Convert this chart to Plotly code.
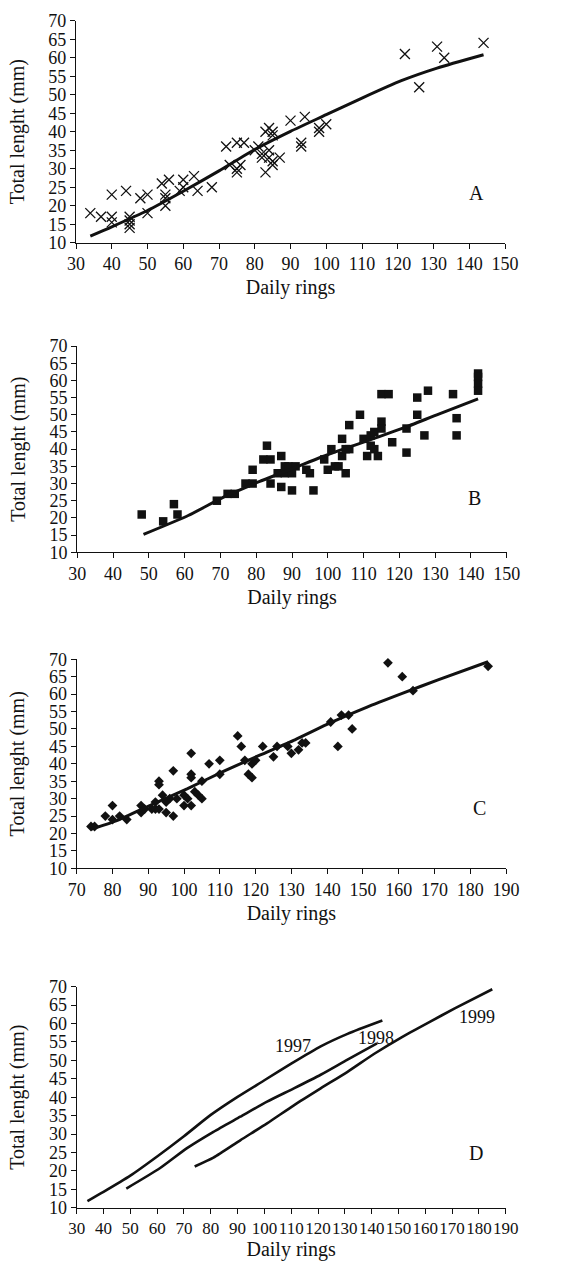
import plotly.graph_objects as go

# ---------------- data ----------------
# Panel A (1997) - crosses
a_x = [34, 37, 40, 40, 40, 44, 45, 45, 45, 45, 48, 50, 50, 54, 55, 55, 55, 56, 59, 60, 60, 63, 64, 68,
       72, 73, 75, 75, 75, 76, 77, 80, 81, 82, 82, 83, 83, 84, 84, 84, 85, 85, 85, 85, 87,
       90, 93, 93, 94, 98, 98, 100, 122, 126, 131, 133, 144]
a_y = [18, 17, 23, 17, 15.5, 24, 17, 15, 14, 16, 22, 23, 18, 26, 23, 20, 22, 27, 24, 27, 25, 28, 24, 25,
       36, 31, 37, 30, 29, 31, 37, 35, 36, 34, 33, 40, 29, 41, 35, 33, 40, 39, 32, 31, 33,
       43, 37, 36, 44, 41, 40, 42, 61, 52, 63, 60, 64]
a_fit_x = [34, 40, 50, 60, 70, 80, 90, 100, 110, 121, 131, 144]
a_fit_y = [11.8, 14.3, 18.7, 23.9, 29.4, 35.2, 40.1, 44.6, 49.1, 53.8, 57.2, 60.8]

# Panel B (1998) - squares
b_x = [48, 54, 57, 58, 69, 72, 74, 77, 79, 79, 82, 83, 84, 84, 86, 87, 87, 88, 88, 89, 90, 90, 91,
       94, 95, 96, 99, 100, 101, 102, 103, 104, 104, 105, 105, 106, 106, 109, 110, 111, 112, 112,
       113, 113, 114, 115, 115, 115, 117, 118, 122, 122, 125, 125, 127, 128, 135, 136, 136,
       142, 142, 142, 142]
b_y = [21, 19, 24, 21, 25, 27, 27, 30, 30, 34, 37, 41, 37, 30, 33, 38, 29, 33, 35, 35, 33, 28, 35,
       34, 33, 28, 37, 34, 40, 35, 35, 43, 38, 40, 33, 47, 40, 50, 43, 38, 44, 41,
       45, 40, 38, 56, 48, 46, 56, 42, 46, 39, 55, 50, 44, 57, 56, 49, 44,
       62, 61, 59, 57]
b_fit_x = [48.5, 61, 71, 81, 91, 101, 111, 121, 131, 142]
b_fit_y = [15.2, 20.7, 26.1, 30.6, 34.7, 38.8, 42.4, 46.1, 50.2, 54.6]

# Panel C (1999) - diamonds
c_x = [74, 75, 78, 80, 80, 82, 84, 88, 88, 89, 91, 92, 92, 93, 93, 93, 94, 95, 95, 96, 97, 97, 98,
       100, 100, 101, 102, 102, 102, 102, 103, 104, 105, 105, 107, 110, 110, 115, 116, 117, 118,
       119, 119, 120, 122, 125, 126, 129, 130, 132, 133, 134, 141, 143, 144, 146, 147, 157, 161,
       164, 185]
c_y = [22, 22, 25, 28, 24, 25, 24, 28, 26, 27, 27, 29, 27, 35, 34, 27, 31, 29, 26, 30, 38, 25, 30,
       31, 28, 30, 43, 37, 36, 28, 32, 31, 35, 30, 40, 41, 37, 48, 45, 41, 37,
       36, 40, 41, 45, 42, 45, 45, 43, 44, 46, 46, 52, 45, 54, 54, 50, 69, 65,
       61, 68]
c_fit_x = [74, 81, 91, 101, 111, 121, 131, 141, 151, 161, 171, 185]
c_fit_y = [21.2, 23.6, 28.3, 32.9, 37.8, 42.4, 46.9, 51.8, 56.2, 60.2, 64.1, 69.3]

panel_letters = ["A", "B", "C", "D"]
year_labels = ["1997", "1998", "1999"]

# ---------------- layout helpers ----------------
W, H = 561, 1261
FONT = "Liberation Serif, Times New Roman, serif"
# pixel boxes of plot areas: (left, right, top, bottom)
boxes = [(76, 505, 20.7, 242.7), (77.3, 506.7, 346, 552.3),
         (76.7, 506, 659.3, 868.3), (76.7, 505.7, 986.7, 1207.7)]
xranges = [[30, 150], [30, 150], [70, 190], [30, 190]]
xtick_sizes = [18, 18, 18, 17]

fig = go.Figure()

def add_scatter(i, xs, ys, symbol, size, lw=0):
    ax = "" if i == 0 else str(i + 1)
    fig.add_trace(go.Scatter(
        x=xs, y=ys, mode="markers", xaxis="x" + ax, yaxis="y" + ax,
        marker=dict(symbol=symbol, size=size, color="#111",
                    line=dict(width=lw, color="#111")),
        cliponaxis=False, showlegend=False, hoverinfo="skip"))

def add_line(i, xs, ys, w=3):
    ax = "" if i == 0 else str(i + 1)
    fig.add_trace(go.Scatter(
        x=xs, y=ys, mode="lines", xaxis="x" + ax, yaxis="y" + ax,
        line=dict(color="#111", width=w, shape="spline", smoothing=0.6),
        cliponaxis=False, showlegend=False, hoverinfo="skip"))

add_scatter(0, a_x, a_y, "x-thin-open", 10, 1.3)
add_line(0, a_fit_x, a_fit_y)
add_scatter(1, b_x, b_y, "square", 8.5)
add_line(1, b_fit_x, b_fit_y)
add_scatter(2, c_x, c_y, "diamond", 7.5)
add_line(2, c_fit_x, c_fit_y)
add_line(3, a_fit_x, a_fit_y, 2.6)
add_line(3, b_fit_x, b_fit_y, 2.6)
add_line(3, c_fit_x, c_fit_y, 2.6)

layout = dict(width=W, height=H, margin=dict(l=0, r=0, t=0, b=0),
              paper_bgcolor="white", plot_bgcolor="white",
              font=dict(family=FONT, color="#111", size=18), showlegend=False)

for i, (l, r, t, b) in enumerate(boxes):
    ax = "" if i == 0 else str(i + 1)
    layout["xaxis" + ax] = dict(
        domain=[l / W, r / W], range=xranges[i], anchor="y" + ax, automargin=False,
        tickmode="linear", tick0=xranges[i][0], dtick=10, tickangle=0,
        showgrid=False, zeroline=False, showline=True, linecolor="#111", linewidth=1.2,
        ticks="outside", ticklen=5, tickwidth=1.2, tickcolor="#111",
        tickfont=dict(family=FONT, size=xtick_sizes[i], color="#111"),
        title=dict(text="Daily rings", font=dict(family=FONT, size=20, color="#111"), standoff=6))
    layout["yaxis" + ax] = dict(
        domain=[1 - b / H, 1 - t / H], range=[10, 70], anchor="x" + ax, automargin=False,
        tickmode="linear", tick0=10, dtick=5,
        showgrid=False, zeroline=False, showline=True, linecolor="#111", linewidth=1.2,
        ticks="outside", ticklen=5, tickwidth=1.2, tickcolor="#111",
        tickfont=dict(family=FONT, size=18, color="#111"),
        title=dict(text="Total lenght (mm)", font=dict(family=FONT, size=20, color="#111"), standoff=18))

fig.update_layout(**layout)

letter_pos = [(142, 23.5), (141, 25.7), (182.7, 27.2), (179, 24.8)]
for i, (lx, ly) in enumerate(letter_pos):
    ax = "" if i == 0 else str(i + 1)
    fig.add_annotation(x=lx, y=ly, xref="x" + ax, yref="y" + ax, text=panel_letters[i],
                       showarrow=False, font=dict(family=FONT, size=20, color="#111"))

year_pos = [(110.8, 54), (141.6, 56), (179.2, 61.7)]
for (yx, yy), t in zip(year_pos, year_labels):
    fig.add_annotation(x=yx, y=yy, xref="x4", yref="y4", text=t, showarrow=False,
                       font=dict(family=FONT, size=18, color="#111"))

fig.write_html("out.html", config={"displayModeBar": False},
               post_script="document.body.style.margin='0';document.body.style.overflow='hidden';")
